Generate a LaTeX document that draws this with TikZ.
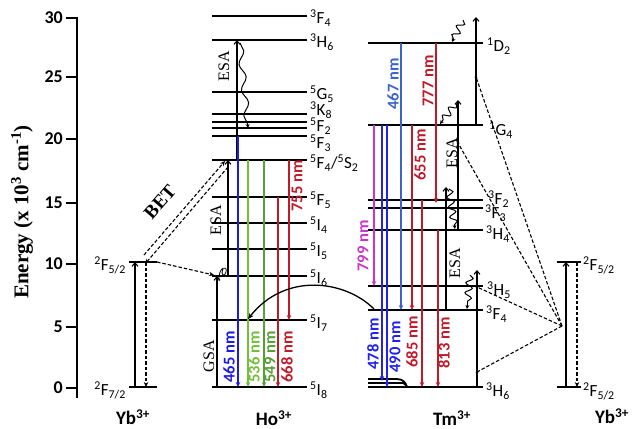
\documentclass[tikz,border=0pt]{standalone}
\usepackage{fontspec}
\setmainfont{Liberation Serif}
\setsansfont{Carlito}
\usetikzlibrary{arrows.meta,decorations.pathmorphing,calc}
\definecolor{hblue}{HTML}{1C1CE0}
\definecolor{tblue}{HTML}{2020F0}
\definecolor{mblue}{HTML}{3C64C8}
\definecolor{lgreen}{HTML}{74BE3C}
\definecolor{dgreen}{HTML}{55A032}
\definecolor{dred}{HTML}{C01A2A}
\definecolor{mag}{HTML}{CC33CC}
\newcommand\Lv[3]{\textsuperscript{#1}#2\textsubscript{#3}}
\begin{document}
\begin{tikzpicture}[x=1pt,y=-1pt,
  lvl/.style={line width=1.8pt},
  em/.style={line width=1.5pt,-{Stealth[length=5pt,width=4.5pt]}},
  ex/.style={line width=1.1pt,-{Straight Barb[length=3.5pt,width=6pt]}},
  ds/.style={line width=1.1pt,dash pattern=on 3.5pt off 2pt},
  dsa/.style={ds,-{Stealth[length=5pt,width=4.5pt]}},
  wv/.style={line width=1pt,decorate,decoration={snake,amplitude=3.5pt,segment length=10pt,post length=3pt},-{Stealth[length=4pt,width=4pt]}},
  lab/.style={anchor=west,inner sep=0pt,font=\sffamily\fontsize{17}{17}\selectfont},
  wl/.style={rotate=90,inner sep=0pt,font=\sffamily\bfseries\fontsize{16.5}{16.5}\selectfont},
  ion/.style={inner sep=0pt,font=\sffamily\bfseries\fontsize{19}{19}\selectfont},
  tk/.style={anchor=east,inner sep=0pt,font=\sffamily\bfseries\fontsize{18}{18}\selectfont},
  prc/.style={rotate=90,inner sep=0pt,font=\fontsize{16}{16}\selectfont},
  dot/.style={circle,fill,inner sep=0pt,minimum size=3pt}
]
\useasboundingbox (0,0) rectangle (633,429);

% axis
\draw[line width=1.8pt] (77,17) coordinate (axT) -- (77,398) coordinate (axB);
\foreach \v/\y in {30/18,25/77,20/139,15/203,10/264,5/327,0/388} {
  \draw[line width=1.5pt] (66,\y) coordinate (tkA\v) -- (77,\y) coordinate (tkB\v);
  \node[tk] (tk\v) at (63,\y) {\v};
}
\node[rotate=90,font=\bfseries\fontsize{21}{21}\selectfont] (ylab) at (22,212) {Energy (x 10\textsuperscript{3} cm\textsuperscript{-1})};

% Yb left levels
\draw[lvl] (129,262) coordinate (ybLuL) -- (157,262) coordinate (ybLuR);
\draw[lvl] (129,387) coordinate (ybLgL) -- (157,387) coordinate (ybLgR);
\node[lab,anchor=east] (ybLu) at (126,265) {\Lv{2}{F}{5/2}};
\node[lab,anchor=east] (ybLg) at (126,390) {\Lv{2}{F}{7/2}};
\draw[ex] ($(ybLgL)+(6,0)$) -- ($(ybLuL)+(6,0)$);
\draw[dsa] ($(ybLuL)+(17,0)$) -- ($(ybLgL)+(17,0)$);
\node[ion] (ybL) at (133,417) {Yb\textsuperscript{3+}};

% Ho levels
\foreach \n/\y in {Ft/16,H6/40,G5/92,K8/114,Fa/122,Fb/128,F3/136,F4/160,F5/197,I4/223,I5/249,I6/276,I7/320,I8/387} {
  \draw[lvl] (212,\y) coordinate (ho\n L) -- (307,\y) coordinate (ho\n R);
}
\node[lab] (lhoFt) at (310,18) {\Lv{3}{F}{4}};
\node[lab] (lhoH6) at (310,42) {\Lv{3}{H}{6}};
\node[lab] (lhoG5) at (310,94) {\Lv{5}{G}{5}};
\node[lab] (lhoK8) at (310,110) {\Lv{3}{K}{8}};
\node[lab] (lhoF2) at (310,126) {\Lv{5}{F}{2}};
\node[lab] (lhoF3) at (310,143) {\Lv{5}{F}{3}};
\node[lab] (lhoF4) at (310,163) {\Lv{5}{F}{4}/\Lv{5}{S}{2}};
\node[lab] (lhoF5) at (310,200) {\Lv{5}{F}{5}};
\node[lab] (lhoI4) at (310,225) {\Lv{5}{I}{4}};
\node[lab] (lhoI5) at (310,251) {\Lv{5}{I}{5}};
\node[lab] (lhoI6) at (310,278) {\Lv{5}{I}{6}};
\node[lab] (lhoI7) at (310,323) {\Lv{5}{I}{7}};
\node[lab] (lhoI8) at (310,390) {\Lv{5}{I}{8}};

% Ho excitation
\draw[ex] ($(hoI8L)+(5,0)$) -- ($(hoI6L)+(5,0)$);
\draw[ex] ($(hoI6L)+(16,0)$) -- ($(hoF4L)+(16,0)$);
\draw[ex] ($(hoF4L)+(25,0)$) -- ($(hoH6L)+(25,0)$);
\node[prc] (gsa) at (209,356) {GSA};
\node[prc] (esa1) at (216,220) {ESA};
\node[prc] (esa2) at (224,66) {ESA};
\draw[wv,decoration={snake,amplitude=3pt,segment length=26pt,post length=3pt}] ($(hoH6L)+(28,3)$) -- ($(hoFbL)+(36,0)$);
\draw[line width=0.8pt] (219,281) .. controls (218,266) and (228,265) .. (226,272) .. controls (225,277) and (220,276) .. (223,269);

% Ho emission
\draw[em,hblue] ($(hoF3L)+(26,0)$) -- ($(hoI8L)+(26,0)$);
\draw[em,lgreen] ($(hoF4L)+(36,0)$) -- ($(hoI8L)+(36,0)$);
\draw[em,dgreen] ($(hoF4L)+(52,0)$) -- ($(hoI8L)+(52,0)$);
\draw[em,dred] ($(hoF5L)+(66,0)$) -- ($(hoI8L)+(66,0)$);
\draw[em,dred] ($(hoF4L)+(77,0)$) -- ($(hoI7L)+(77,0)$);
\node[wl,hblue] (w465) at (229,357) {465 nm};
\node[wl,lgreen] (w536) at (254,357) {536 nm};
\node[wl,dgreen] (w549) at (270,357) {549 nm};
\node[wl,dred] (w668) at (287,357) {668 nm};
\node[wl,dred] (w755) at (297,186) {755 nm};
\node[ion] (ho) at (274,418) {Ho\textsuperscript{3+}};

% BET and ET from Yb
\coordinate (betA1) at (144,255);
\coordinate (betA2) at (225,161);
\coordinate (betB1) at (228,167);
\coordinate (betB2) at (145,264);
\draw[dsa] (betA1) -- (betA2);
\draw[dsa] (betB1) -- (betB2);
\node[rotate=49,font=\bfseries\fontsize{19}{19}\selectfont,inner sep=0pt] (bet) at (160,202) {BET};
\draw[dsa] (ybLuR) -- ($(hoI6L)+(2,-1)$);

% Tm levels
\foreach \n/\y in {D2/43,G4/125,Fc/200,Fd/208,H4/230,H5/286,F4/310,H6/387} {
  \draw[lvl] (368,\y) coordinate (tm\n L) -- (483,\y) coordinate (tm\n R);
}
\draw[lvl] (368,379) coordinate (fkA) -- (397,379) .. controls (403,379) and (406,383) .. (407,387);
\draw[lvl] (368,383) coordinate (fkB) -- (403,383) .. controls (405,384) .. (407,387);
\node[lab] (ltmD2) at (487,46) {\Lv{1}{D}{2}};
\node[lab] (ltmG4) at (489,130) {\Lv{1}{G}{4}};
\node[lab] (ltmF2) at (488,199) {\Lv{3}{F}{2}};
\node[lab] (ltmF3) at (485,213) {\Lv{3}{F}{3}};
\node[lab] (ltmH4) at (486,234) {\Lv{3}{H}{4}};
\node[lab] (ltmH5) at (487,290) {\Lv{3}{H}{5}};
\node[lab] (ltmF4) at (486,314) {\Lv{3}{F}{4}};
\node[lab] (ltmH6) at (486,391) {\Lv{3}{H}{6}};

% Tm emission
\draw[em,mag] ($(tmG4L)+(6,0)$) -- ($(tmH5L)+(6,0)$);
\draw[em,tblue] ($(tmG4L)+(14,0)$) -- ($(tmH6L)+(14,-6)$);
\draw[em,tblue] ($(tmG4L)+(19,0)$) -- ($(tmH6L)+(19,0)$);
\draw[em,mblue] ($(tmD2L)+(33,0)$) -- ($(tmF4L)+(33,0)$);
\draw[em,dred] ($(tmG4L)+(44,0)$) -- ($(tmF4L)+(44,0)$);
\draw[em,dred,line width=1.2pt] ($(tmFcL)+(54,0)$) -- ($(tmH6L)+(54,0)$);
\draw[em,dred] ($(tmD2L)+(68,0)$) -- ($(tmFcL)+(68,3)$);
\draw[em,dred] ($(tmH4L)+(70,0)$) -- ($(tmH6L)+(70,0)$);
\node[wl,mblue] (w467) at (393,84) {467 nm};
\node[wl,dred] (w777) at (428,81) {777 nm};
\node[wl,dred] (w655) at (420,155) {655 nm};
\node[wl,mag] (w799) at (363,246) {799 nm};
\node[wl,tblue] (w478) at (373,344) {478 nm};
\node[wl,tblue] (w490) at (395,347) {490 nm};
\node[wl,dred] (w685) at (412,342) {685 nm};
\node[wl,dred] (w813) at (444,343) {813 nm};

% Tm excitation
\draw[ex] ($(tmH6L)+(109,0)$) -- ($(tmH5L)+(109,-16)$);
\draw[ex] ($(tmF4L)+(78,0)$) -- ($(tmFcL)+(78,-13)$);
\draw[ex] ($(tmH4L)+(90,0)$) -- ($(tmG4L)+(90,-25)$);
\draw[ex] ($(tmG4L)+(108,0)$) -- ($(tmD2L)+(108,-26)$);
\node[prc] (esa3) at (452,153) {ESA};
\node[prc] (esa4) at (455,263) {ESA};
\draw[wv] (463,20) -- ($(tmD2L)+(84,-1)$);
\draw[wv] (456,103) -- ($(tmG4L)+(72,-1)$);
\draw[wv] (449,189) -- ($(tmH4L)+(87,-1)$);
\draw[wv] (470,275) -- ($(tmF4L)+(99,-1)$);
\node[ion] (tm) at (452,418) {Tm\textsuperscript{3+}};

% Tm -> Ho transfer
\draw[line width=1.3pt,-{Stealth[length=6pt,width=5pt]}] ($(tmF4L)+(6,-1)$) .. controls (345,280) and (285,272) .. ($(hoI7L)+(36,-1)$);

% Yb right
\draw[lvl] (557,262) coordinate (ybRuL) -- (581,262) coordinate (ybRuR);
\draw[lvl] (557,387) coordinate (ybRgL) -- (581,387) coordinate (ybRgR);
\node[lab] (ybRu) at (583,265) {\Lv{2}{F}{5/2}};
\node[lab] (ybRg) at (583,391) {\Lv{2}{F}{5/2}};
\draw[ex] ($(ybRgL)+(9,0)$) -- ($(ybRuL)+(9,0)$);
\draw[dsa] ($(ybRuL)+(20,0)$) -- ($(ybRgL)+(20,0)$);
\node[ion] (ybR) at (612,416) {Yb\textsuperscript{3+}};

% energy transfer Yb -> Tm
\coordinate (yr) at (562,326);
\node[dot] (d1) at (476,77) {};
\node[dot] (d2) at (458,143) {};
\node[dot] (d3) at (477,287) {};
\node[dot] (d4) at (477,372) {};
\draw[ds] (yr) -- (d1.center);
\draw[ds] (yr) -- (d2.center);
\draw[ds] (yr) -- (d3.center);
\draw[ds] (yr) -- (d4.center);
\end{tikzpicture}
\end{document}
